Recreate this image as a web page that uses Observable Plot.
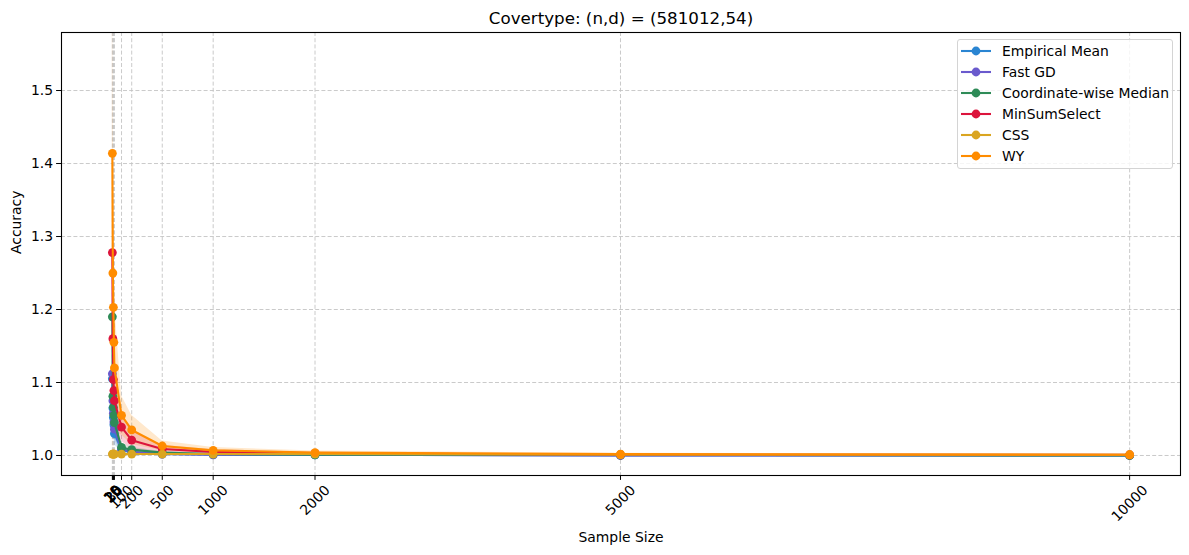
<!DOCTYPE html>
<html>
<head>
<meta charset="utf-8">
<script src="https://cdn.jsdelivr.net/npm/d3@7"></script>
<script src="https://cdn.jsdelivr.net/npm/@observablehq/plot@0.6"></script>
<style>
  html, body { margin: 0; padding: 0; background: #fff; }
  #wrap { position: relative; width: 1189px; height: 555px; font-family: "DejaVu Sans", sans-serif; }
  #legend { position: absolute; left: 957px; top: 39px; width: 214px; height: 128px;
    border: 1px solid #d4d4d4; border-radius: 3px; background: rgba(255,255,255,0.8); box-sizing: content-box; }
  .row { position: absolute; left: 0; height: 20px; display: flex; align-items: center; font-size: 13.9px; color: #000; white-space: nowrap; }
  .row svg { margin-left: 2px; margin-right: 10px; }
</style>
</head>
<body>
<div id="wrap"><div id="legend"></div></div>
<script>
const sizes = [10, 15, 20, 25, 30, 100, 200, 500, 1000, 2000, 5000, 10000];
const methods = ["Empirical Mean", "Fast GD", "Coordinate-wise Median", "MinSumSelect", "CSS", "WY"];
const colors = ["#2a85d2", "#6a5acd", "#2e8b57", "#dc143c", "#daa520", "#ff8c00"];

const meanEmp = [1.105, 1.065, 1.052, 1.042, 1.030, 1.008, 1.004, 1.002, 1.001, 1.001, 1.000, 1.000];
const meanFGD = [1.112, 1.075, 1.058, 1.046, 1.036, 1.009, 1.005, 1.002, 1.001, 1.001, 1.000, 1.000];
const meanCWM = [1.190, 1.081, 1.066, 1.055, 1.045, 1.011, 1.008, 1.004, 1.002, 1.001, 1.001, 1.000];
const meanMSS = [1.278, 1.160, 1.104, 1.089, 1.075, 1.039, 1.021, 1.009, 1.005, 1.003, 1.001, 1.001];
const meanCSS = [1.002, 1.002, 1.002, 1.002, 1.002, 1.002, 1.002, 1.002, 1.002, 1.002, 1.001, 1.001];
const meanWY  = [1.414, 1.250, 1.203, 1.155, 1.120, 1.055, 1.035, 1.013, 1.007, 1.004, 1.002, 1.001];

const sdEmp = [0.05, 0.03, 0.025, 0.02, 0.015, 0.004, 0.002, 0.001, 0.0005, 0.0005, 0.0003, 0.0002];
const sdFGD = [0.05, 0.03, 0.025, 0.02, 0.015, 0.004, 0.002, 0.001, 0.0005, 0.0005, 0.0003, 0.0002];
const sdCWM = [0.08, 0.04, 0.03, 0.025, 0.02, 0.005, 0.003, 0.0015, 0.001, 0.0005, 0.0003, 0.0002];
const sdMSS = [0.15, 0.09, 0.06, 0.05, 0.04, 0.019, 0.013, 0.005, 0.003, 0.0015, 0.0008, 0.0004];
const sdCSS = [0.001, 0.001, 0.001, 0.001, 0.001, 0.001, 0.001, 0.001, 0.0005, 0.0005, 0.0003, 0.0002];
const sdWY  = [0.34, 0.25, 0.16, 0.12, 0.09, 0.027, 0.02, 0.007, 0.004, 0.002, 0.001, 0.0005];

const yTicks = [1.0, 1.1, 1.2, 1.3, 1.4, 1.5];

const means = [meanEmp, meanFGD, meanCWM, meanMSS, meanCSS, meanWY];
const sds = [sdEmp, sdFGD, sdCWM, sdMSS, sdCSS, sdWY];

const rows = methods.map((m, k) => sizes.map((n, i) => ({
  method: m, n, mean: means[k][i], lo: means[k][i] - sds[k][i], hi: means[k][i] + sds[k][i]
})));

const FS = 13.9;
const marks = [];
marks.push(Plot.gridX(sizes, {stroke: "#c4c4c4", strokeOpacity: 1, strokeWidth: 0.9, strokeDasharray: "4,2.2"}));
marks.push(Plot.gridY(yTicks, {stroke: "#c4c4c4", strokeOpacity: 1, strokeWidth: 0.9, strokeDasharray: "4,2.2"}));
rows.forEach((r, k) => {
  marks.push(Plot.areaY(r, {x: "n", y1: "lo", y2: "hi", fill: colors[k], fillOpacity: 0.2, clip: true}));
});
rows.forEach((r, k) => {
  marks.push(Plot.line(r, {x: "n", y: "mean", stroke: colors[k], strokeWidth: 2.1, clip: true}));
  marks.push(Plot.dot(r, {x: "n", y: "mean", fill: colors[k], r: 4.4, stroke: "none"}));
});
marks.push(Plot.frame({stroke: "#000", strokeWidth: 1.1}));
marks.push(Plot.axisX({ticks: sizes, tickSize: 4.9, tickFormat: () => "", label: null}));
// rotated x tick labels, centred on tick like matplotlib
const byLen = d3.group(sizes, d => String(d).length);
for (const [len, vals] of byLen) {
  const w = len * 8.85, h = 11;
  const half = (w + h) * 0.7071 / 2;
  marks.push(Plot.text(vals, {x: d => d, frameAnchor: "bottom", text: d => String(d),
    rotate: -45, textAnchor: "middle", lineAnchor: "middle", dy: 8.4 + half, fontSize: FS}));
}
marks.push(Plot.axisY({ticks: yTicks, tickSize: 4.9, tickPadding: 3.5, tickFormat: d3.format(".1f"), label: null, fontSize: FS}));
marks.push(Plot.text(["Sample Size"], {frameAnchor: "bottom", lineAnchor: "middle", dy: 62, fontSize: FS}));
marks.push(Plot.text(["Accuracy"], {frameAnchor: "left", rotate: -90, lineAnchor: "middle", dx: -45, fontSize: FS}));
marks.push(Plot.text(["Covertype: (n,d) = (581012,54)"], {frameAnchor: "top", lineAnchor: "middle", dy: -14, fontSize: 16.7}));

const chart = Plot.plot({
  width: 1189, height: 555,
  marginLeft: 61, marginRight: 9, marginTop: 32, marginBottom: 80,
  style: {fontFamily: "DejaVu Sans", fontSize: FS + "px", color: "#000", background: "#fff"},
  x: {type: "linear", domain: [-489.5, 10499.5], label: null},
  y: {type: "linear", domain: [0.9726, 1.5795], label: null},
  marks
});
const wrap = document.getElementById("wrap");
wrap.insertBefore(chart, wrap.firstChild);

const legend = document.getElementById("legend");
methods.forEach((m, k) => {
  const row = document.createElement("div");
  row.className = "row";
  row.style.top = (1 + k * 20.9) + "px";
  row.innerHTML = `<svg width="32" height="12"><line x1="1" y1="6" x2="31" y2="6" stroke="${colors[k]}" stroke-width="2.1"/><circle cx="16" cy="6" r="4.4" fill="${colors[k]}"/></svg><span>${m}</span>`;
  legend.appendChild(row);
});
</script>
</body>
</html>
